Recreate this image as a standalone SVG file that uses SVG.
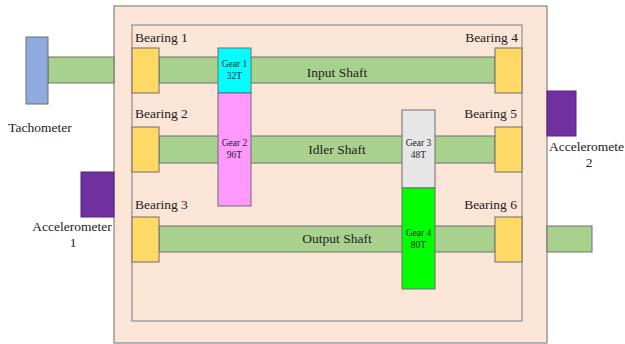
<svg xmlns="http://www.w3.org/2000/svg" width="625" height="344" viewBox="0 0 625 344" font-family="'Liberation Serif', 'Times New Roman', serif">
<style>
.box{fill:#FBE5D6;stroke:#8C8C8C;stroke-width:1.3}
.inner{fill:none;stroke:#8C8C8C;stroke-width:1.2}
.shaft{fill:#A9D18E;stroke:#6F6F6F;stroke-width:1}
.bear{fill:#FFD966;stroke:#6F6F6F;stroke-width:1}
.gear{stroke:#6F6F6F;stroke-width:1}
text{font-family:'Liberation Serif','Times New Roman',serif;fill:#222}
.lbl{font-size:13.5px}
.g{font-size:9.5px;text-anchor:middle}
.mid{text-anchor:middle}
.end{text-anchor:end}
</style>
<rect fill="#fff" width="625" height="344"/>
<g id="housing">
<rect class="box" x="114" y="6" width="433" height="337"/>
<rect class="inner" x="132" y="25" width="390" height="296"/>
</g>
<g id="connectors">
<rect class="shaft" x="48" y="57" width="66" height="26"/>
<rect class="shaft" x="159" y="57" width="336" height="26"/>
<rect class="shaft" x="159" y="136" width="336" height="27"/>
<rect class="shaft" x="159" y="226" width="336" height="26"/>
<rect class="shaft" x="547" y="226" width="45" height="26"/>
</g>
<g id="tachometer">
<rect x="26" y="37" width="22" height="67" fill="#8FAADC" stroke="#6F6F6F" stroke-width="1"/>
<text class="lbl mid" x="40" y="132">Tachometer</text>
</g>
<g id="accelerometer1">
<rect x="81" y="172" width="33" height="45" fill="#7030A0" stroke="#5A2080" stroke-width="1"/>
<text class="lbl mid" x="72" y="231">Accelerometer</text>
<text class="lbl mid" x="73" y="247">1</text>
</g>
<g id="accelerometer2">
<rect x="547" y="91" width="29" height="45" fill="#7030A0" stroke="#5A2080" stroke-width="1"/>
<text class="lbl" x="549" y="151">Acceleromete</text>
<text class="lbl mid" x="589" y="167">2</text>
</g>
<g id="bearing1"><rect class="bear" x="132" y="48" width="27" height="45"/><text class="lbl" x="135" y="42">Bearing 1</text></g>
<g id="bearing2"><rect class="bear" x="132" y="127" width="27" height="45"/><text class="lbl" x="135" y="118">Bearing 2</text></g>
<g id="bearing3"><rect class="bear" x="132" y="217" width="27" height="45"/><text class="lbl" x="135" y="209">Bearing 3</text></g>
<g id="bearing4"><rect class="bear" x="495" y="48" width="27" height="45"/><text class="lbl end" x="518" y="42">Bearing 4</text></g>
<g id="bearing5"><rect class="bear" x="495" y="127" width="27" height="45"/><text class="lbl end" x="517" y="118">Bearing 5</text></g>
<g id="bearing6"><rect class="bear" x="495" y="217" width="27" height="45"/><text class="lbl end" x="517" y="209">Bearing 6</text></g>
<g id="shaft-labels">
<text class="lbl mid" x="337" y="77">Input Shaft</text>
<text class="lbl mid" x="337" y="154">Idler Shaft</text>
<text class="lbl mid" x="337" y="243">Output Shaft</text>
</g>
<g id="gear1"><rect class="gear" fill="#00FFFF" x="218" y="48" width="33" height="45"/><text class="g" x="234.5" y="67">Gear 1</text><text class="g" x="234.5" y="79">32T</text></g>
<g id="gear2"><rect class="gear" fill="#FF99FF" x="218" y="93" width="33" height="113"/><text class="g" x="234.5" y="146">Gear 2</text><text class="g" x="234.5" y="158">96T</text></g>
<g id="gear3"><rect class="gear" fill="#E6E6E6" x="402" y="110" width="33" height="78"/><text class="g" x="418.5" y="146">Gear 3</text><text class="g" x="418.5" y="158">48T</text></g>
<g id="gear4"><rect class="gear" fill="#00FF00" x="402" y="188" width="33" height="101"/><text class="g" x="418.5" y="236">Gear 4</text><text class="g" x="418.5" y="248">80T</text></g>
</svg>
